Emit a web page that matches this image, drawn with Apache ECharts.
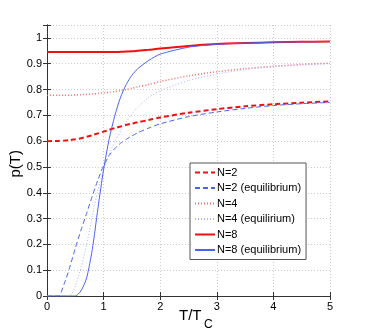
<!DOCTYPE html>
<html>
<head>
<meta charset="utf-8">
<script src="https://cdn.jsdelivr.net/npm/echarts@6/dist/echarts.min.js"></script>
<style>
  html, body { margin: 0; padding: 0; background: #fff; }
  #chart { width: 365px; height: 333px; }
</style>
</head>
<body>
<div id="chart"></div>
<script>
// p(T) vs T/Tc, 세 가지 N에 대한 곡선 + 평형 곡선

const T = [0, 0.2, 0.3, 0.4, 0.5, 0.6, 0.7, 0.8, 0.9, 1.0, 1.1, 1.2, 1.3, 1.4, 1.5, 1.6, 1.8, 2.0, 2.5, 3, 3.5, 4, 4.5, 5];

const N2 = [0.600, 0.601, 0.602, 0.604, 0.607, 0.611, 0.617, 0.623, 0.630, 0.637, 0.644, 0.651, 0.657, 0.663, 0.668, 0.673, 0.682, 0.692, 0.710, 0.724, 0.735, 0.743, 0.749, 0.754];
const N2eq = [0, 0, 0.045, 0.11, 0.185, 0.255, 0.32, 0.387, 0.45, 0.505, 0.545, 0.572, 0.592, 0.607, 0.62, 0.632, 0.651, 0.667, 0.695, 0.713, 0.727, 0.738, 0.745, 0.75];
const N4 = [0.778, 0.778, 0.778, 0.778, 0.779, 0.780, 0.781, 0.783, 0.785, 0.787, 0.789, 0.792, 0.796, 0.800, 0.805, 0.810, 0.820, 0.831, 0.853, 0.869, 0.881, 0.890, 0.897, 0.902];
const N4eq = [0, 0, 0, 0, 0.04, 0.11, 0.2, 0.31, 0.41, 0.49, 0.55, 0.6, 0.64, 0.675, 0.705, 0.73, 0.77, 0.795, 0.835, 0.86, 0.877, 0.888, 0.895, 0.9];
const N8 = [0.945, 0.945, 0.945, 0.945, 0.945, 0.945, 0.945, 0.945, 0.945, 0.945, 0.945, 0.945, 0.946, 0.947, 0.948, 0.950, 0.954, 0.959, 0.969, 0.976, 0.980, 0.983, 0.985, 0.986];
const N8eq = [0, 0, 0, 0, 0, 0.02, 0.07, 0.18, 0.34, 0.49, 0.61, 0.7, 0.77, 0.82, 0.855, 0.88, 0.913, 0.937, 0.964, 0.975, 0.98, 0.983, 0.985, 0.986];

const seriesNames = ["N=2", "N=2 (equilibrium)", "N=4", "N=4 (equilirium)", "N=8", "N=8 (equilibrium)"];

const FONT = "Liberation Sans, Arial, sans-serif";
const RED = "#f01010";
const BLUE = "#4a64f2";

const pairs = (ys) => T.map((t, i) => [t, ys[i]]);

function line(name, ys, color, type, width) {
  return {
    name,
    type: "line",
    data: pairs(ys),
    smooth: 0.25,
    symbol: "none",
    lineStyle: { color, type, width },
    itemStyle: { color },
    z: 3
  };
}

const chart = echarts.init(document.getElementById("chart"), null, { renderer: "canvas" });

const tickStyle = { inside: true, length: 4, lineStyle: { color: "#333" } };
const axisLine = { show: true, lineStyle: { color: "#333", width: 1 } };

chart.setOption({
  animation: false,
  backgroundColor: "#fff",
  grid: { left: 47, right: 35, top: 25, bottom: 37 },
  xAxis: [
    {
      type: "value", min: 0, max: 5, interval: 1,
      axisLine, axisTick: tickStyle,
      axisLabel: { color: "#000", fontFamily: FONT, fontSize: 11, margin: 5 },
      splitLine: { show: true, lineStyle: { color: "#ccc", type: [1, 2] } }
    },
    {
      type: "value", position: "top", min: 0, max: 5, interval: 1,
      axisLine, axisTick: tickStyle, axisLabel: { show: false }, splitLine: { show: false }
    }
  ],
  yAxis: [
    {
      type: "value", min: 0, max: 1.05, interval: 0.1,
      axisLine, axisTick: tickStyle,
      axisLabel: {
        color: "#000", fontFamily: FONT, fontSize: 11, margin: 5,
        formatter: (v) => (v > 1.01 ? "" : String(Math.round(v * 10) / 10))
      },
      splitLine: { show: true, lineStyle: { color: "#ccc", type: [1, 2] } }
    },
    {
      type: "value", position: "right", min: 0, max: 1.05, interval: 0.1,
      axisLine, axisTick: tickStyle, axisLabel: { show: false }, splitLine: { show: false }
    }
  ],
  legend: {
    orient: "vertical",
    left: 190, top: 163,
    itemWidth: 20, itemHeight: 10, itemGap: 4.5,
    padding: [4, 5, 4, 4],
    backgroundColor: "#fff",
    borderColor: "#555", borderWidth: 1,
    itemStyle: { opacity: 0 },
    textStyle: { fontFamily: FONT, fontSize: 11, color: "#000", padding: [0, 0, 0, -3] },
    data: seriesNames
  },
  series: [
    line(seriesNames[0], N2, RED, [5, 3], 2),
    line(seriesNames[1], N2eq, BLUE, [5, 3], 1),
    line(seriesNames[2], N4, "#ff6a6a", [1, 2], 1.5),
    line(seriesNames[3], N4eq, "#a8b4ff", [1, 2], 1),
    line(seriesNames[4], N8, RED, "solid", 2),
    line(seriesNames[5], N8eq, BLUE, "solid", 1)
  ],
  graphic: [
    {
      type: "text", left: 8, top: 150, rotation: Math.PI / 2,
      style: { text: "p(T)", font: "15px " + FONT, fill: "#000" }
    },
    {
      type: "text", left: 179, top: 308,
      style: { text: "T/T", font: "15px " + FONT, fill: "#000" }
    },
    {
      type: "text", left: 204, top: 319,
      style: { text: "C", font: "12px " + FONT, fill: "#000" }
    }
  ]
});
</script>
</body>
</html>
